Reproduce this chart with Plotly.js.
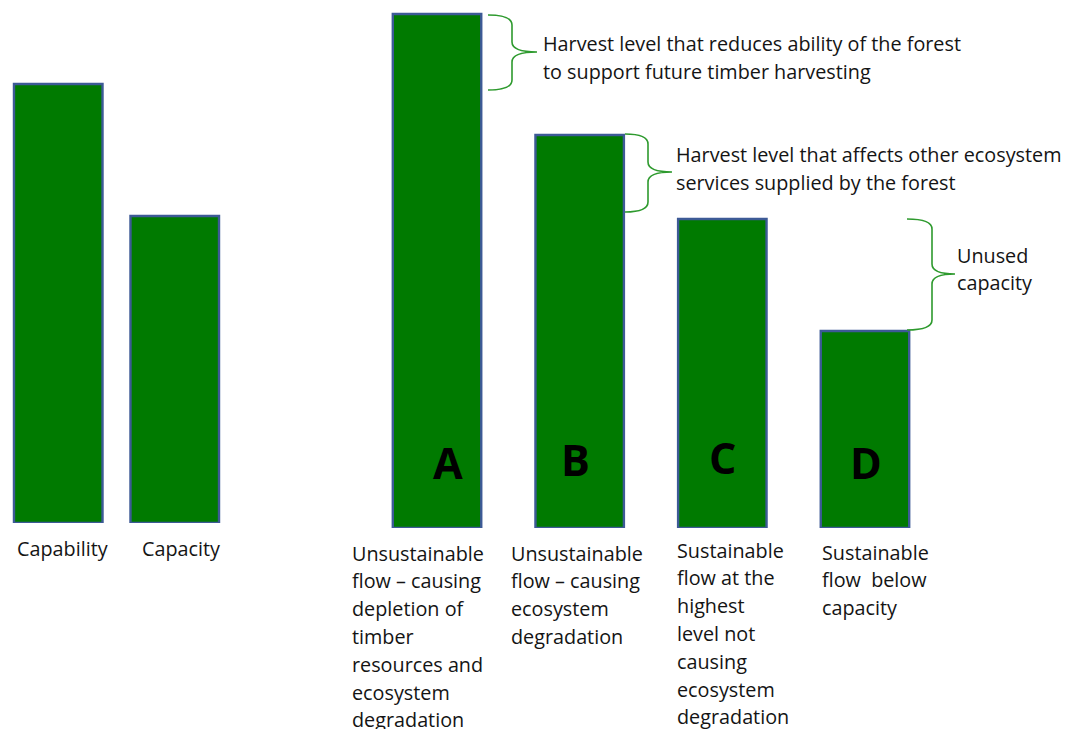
<!DOCTYPE html>
<html>
<head>
<meta charset="utf-8">
<script src="https://cdn.plot.ly/plotly-3.0.1.min.js"></script>
<style>html,body{margin:0;padding:0;background:#fff;}#chart{width:1086px;height:729px;}</style>
</head>
<body>
<div id="chart"></div>
<script>
// ---- data ----
const leftCategories = ['Capability', 'Capacity'];
const leftValues = [439, 307];
const rightCategories = ['A', 'B', 'C', 'D'];
const rightValues = [514, 393, 309, 197];
const leftLabels = [['Capability'], ['Capacity']];
const rightLabels = [
  ['Unsustainable', 'flow \u2013 causing', 'depletion of', 'timber', 'resources and', 'ecosystem', 'degradation'],
  ['Unsustainable', 'flow \u2013 causing', 'ecosystem', 'degradation'],
  ['Sustainable', 'flow at the', 'highest', 'level not', 'causing', 'ecosystem', 'degradation'],
  ['Sustainable', 'flow  below', 'capacity']
];
const braceTexts = [
  ['Harvest level that reduces ability of the forest', 'to support future timber harvesting'],
  ['Harvest level that affects other ecosystem', 'services supplied by the forest'],
  ['Unused', 'capacity']
];

// ---- layout helpers ----
const W = 1086, H = 729;
const X = px => px / W;
const Y = py => 1 - py / H;
const FONT = '"Open Sans", "DejaVu Sans", sans-serif';
const TXT = '#141414';
const GREEN = '#007a00';
const EDGE = '#3d5a96';
const BRACE = '#2e9a2e';
const LH = 27.8;

const annotations = [];
function addLines(lines, left, firstCenter, size) {
  lines.forEach((t, i) => {
    annotations.push({
      xref: 'paper', yref: 'paper', x: X(left - 2), y: Y(firstCenter + i * LH),
      xanchor: 'left', yanchor: 'middle', text: t, showarrow: false,
      font: {family: FONT, size: size || 19.8, color: TXT}
    });
  });
}

const traces = [
  {type: 'bar', x: leftCategories, y: leftValues, xaxis: 'x', yaxis: 'y',
   width: 0.76, marker: {color: GREEN, line: {color: EDGE, width: 2.4}}, hoverinfo: 'skip'},
  {type: 'bar', x: rightCategories, y: rightValues, xaxis: 'x2', yaxis: 'y2',
   width: 0.62, marker: {color: GREEN, line: {color: EDGE, width: 2.4}}, hoverinfo: 'skip'}
];

// bottom labels
const leftLabelX = [17, 142];
leftLabels.forEach((l, i) => addLines(l, leftLabelX[i], 548));
const rightLabelX = [352, 511, 677, 822];
const rightLabelY = [553, 553, 550, 552];
rightLabels.forEach((l, i) => addLines(l, rightLabelX[i], rightLabelY[i]));

// letters inside bars
const letterShift = [11, -4, 0, 1];
const letterY = [462, 459, 458, 462];
rightCategories.forEach((c, i) => {
  annotations.push({
    xref: 'x2', yref: 'paper', x: c, y: Y(letterY[i]), xshift: letterShift[i],
    xanchor: 'center', yanchor: 'middle', text: '<b>' + c + '</b>', showarrow: false,
    font: {family: FONT, size: 43, color: '#000'}
  });
});

// braces
const braceGeom = [
  {x0: 488, xv: 512, xt: 537, top: 15, mid: 52, bottom: 90, tx: 543, ty: 44},
  {x0: 625, xv: 648, xt: 672, top: 134, mid: 172, bottom: 212, tx: 676, ty: 155},
  {x0: 907, xv: 932, xt: 955, top: 219, mid: 274, bottom: 330, tx: 957, ty: 255}
];
const shapes = braceGeom.map(g => {
  const r = 10;
  const p = `M ${X(g.x0)},${Y(g.top)} Q ${X(g.xv)},${Y(g.top)} ${X(g.xv)},${Y(g.top + r)} ` +
    `L ${X(g.xv)},${Y(g.mid - r)} Q ${X(g.xv)},${Y(g.mid)} ${X(g.xt)},${Y(g.mid)} ` +
    `Q ${X(g.xv)},${Y(g.mid)} ${X(g.xv)},${Y(g.mid + r)} ` +
    `L ${X(g.xv)},${Y(g.bottom - r)} Q ${X(g.xv)},${Y(g.bottom)} ${X(g.x0)},${Y(g.bottom)}`;
  return {type: 'path', xref: 'paper', yref: 'paper', path: p,
          line: {color: BRACE, width: 1.6}, fillcolor: 'rgba(0,0,0,0)'};
});
braceGeom.forEach((g, i) => addLines(braceTexts[i], g.tx, g.ty));

const hidden = {showgrid: false, zeroline: false, showline: false, showticklabels: false, ticks: '', fixedrange: true};
const layout = {
  width: W, height: H,
  margin: {l: 0, r: 0, t: 0, b: 0, pad: 0},
  paper_bgcolor: '#fff', plot_bgcolor: '#fff',
  showlegend: false,
  xaxis: Object.assign({}, hidden, {type: 'category', domain: [X(0), X(233)], range: [-0.5, 1.5], anchor: 'y'}),
  yaxis: Object.assign({}, hidden, {domain: [Y(523), 1], range: [0, 523], anchor: 'x'}),
  xaxis2: Object.assign({}, hidden, {type: 'category', domain: [X(365.7), X(936.3)], range: [-0.5, 3.5], anchor: 'y2'}),
  yaxis2: Object.assign({}, hidden, {domain: [Y(528), 1], range: [0, 528], anchor: 'x2'}),
  annotations: annotations,
  shapes: shapes
};

Plotly.newPlot('chart', traces, layout, {staticPlot: true, displayModeBar: false});
</script>
</body>
</html>
